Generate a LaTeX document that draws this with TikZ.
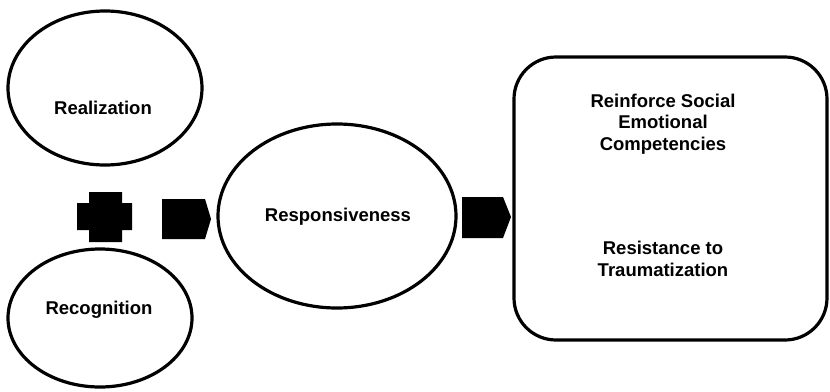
\documentclass[tikz,border=0pt]{standalone}
\usepackage{fontspec}
\setmainfont{Liberation Sans}
\usetikzlibrary{shapes.geometric}
\begin{document}
\begin{tikzpicture}[x=1pt,y=-1pt,
  oval/.style={draw=black,line width=3.2pt,fill=white},
  lbl/.style={font=\fontsize{18.5}{21.5}\selectfont\bfseries,align=center,inner sep=0pt},
  blk/.style={fill=black,draw=none}]
\useasboundingbox (0,0) rectangle (830,391);
% ellipses
\draw[oval] (105,88) ellipse [x radius=97,y radius=77];
\node[lbl] (real) at (103,108) {Realization};
\draw[oval] (337,216) ellipse [x radius=119,y radius=92];
\node[lbl] (resp) at (338,217) {Responsiveness};
\draw[oval] (100,318) ellipse [x radius=92,y radius=69];
\node[lbl] (reco) at (99,310) {Recognition};
% rounded box
\draw[oval,rounded corners=42pt] (514,57) rectangle (827,340);
\node[lbl] (rsec) at (663,124) {Reinforce Social\\Emotional\\Competencies};
\node[lbl] (rtt) at (663,259) {Resistance to\\Traumatization};
% plus
\fill[blk] (89,192) -- (122,192) -- (122,203) -- (132,203) -- (132,230) -- (122,230) -- (122,242) -- (89,242) -- (89,230) -- (77,230) -- (77,203) -- (89,203) -- cycle;
% arrows
\coordinate (a1) at (162,199);
\fill[blk] (a1) -- (205,199) -- (211,219) -- (205,239) -- (162,239) -- cycle;
\coordinate (a2) at (462,197);
\fill[blk] (a2) -- (503,197) -- (511,217) -- (503,238) -- (462,238) -- cycle;
\end{tikzpicture}
\end{document}
